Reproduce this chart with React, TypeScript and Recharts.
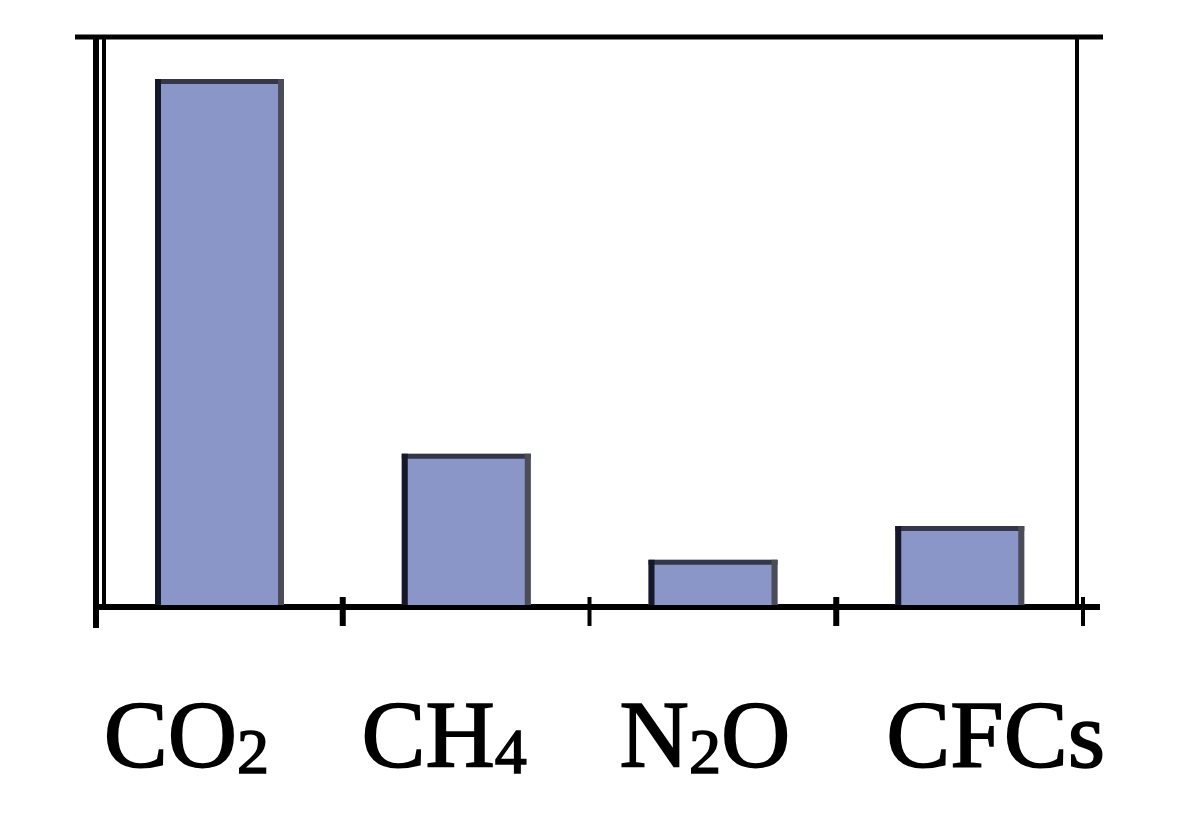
import { BarChart, Bar, XAxis, YAxis, usePlotArea } from 'recharts';

// greenhouse gases, relative contribution
const gases = ['CO2', 'CH4', 'N2O', 'CFCs'];
const contribution = [64, 18.4, 5.5, 9.6];
// how each label is written: [main, subscript, tail]
const labelParts: [string, string, string][] = [
  ['CO', '2', ''],
  ['CH', '4', ''],
  ['N', '2', 'O'],
  ['CFCs', '', ''],
];
const yMax = 69;

const data = gases.map((g, i) => ({ name: g, value: contribution[i] }));

const W = 1176;
const H = 803;
const margin = { top: 30, right: 101, bottom: 0, left: 88 };
const axisHeight = 206;
const labelNudge = [-33, -22, -8, 36];

function GasBar(props: any) {
  const { x, y, width, height } = props;
  if (!height || height <= 0) return null;
  return (
    <g>
      <rect x={x} y={y} width={width} height={height} fill="#8b96c8" />
      <line x1={x} x2={x + width} y1={y + 2.5} y2={y + 2.5} stroke="#34374a" strokeWidth={5} />
      <line x1={x + 3} x2={x + 3} y1={y} y2={y + height} stroke="#15172a" strokeWidth={6} />
      <line x1={x + width - 3} x2={x + width - 3} y1={y} y2={y + height} stroke="#4a4c58" strokeWidth={6} />
    </g>
  );
}

function GasTick(props: any) {
  const { x, y, index } = props;
  const [main, sub, tail] = labelParts[index] ?? [String(props.payload?.value), '', ''];
  return (
    <text
      x={x + (labelNudge[index] ?? 0)}
      y={y + 160}
      textAnchor="middle"
      fontFamily="'Liberation Serif', 'DejaVu Serif', serif"
      fontSize={96}
      fill="#000"
      stroke="#000"
      strokeWidth={1.6}
    >
      <tspan>{main}</tspan>
      {sub && (
        <tspan fontSize={64} dy={6}>
          {sub}
        </tspan>
      )}
      {tail && <tspan dy={-6}>{tail}</tspan>}
    </text>
  );
}

function Frame() {
  const area = usePlotArea();
  if (!area) return null;
  const { x, y, width, height } = area;
  const bottom = y + height;
  const right = x + width;
  const step = width / gases.length;
  const ticks = gases.map((_, i) => x + step * (i + 1));
  return (
    <g>
      <line x1={x - 21} x2={right + 20} y1={y - 1} y2={y - 1} stroke="#000" strokeWidth={5} />
      <line x1={right - 6} x2={right - 6} y1={y} y2={bottom} stroke="#000" strokeWidth={4} />
      <line x1={x} x2={x} y1={y - 1} y2={bottom + 23} stroke="#000" strokeWidth={6} />
      <line x1={x + 8} x2={x + 8} y1={y - 1} y2={bottom} stroke="#000" strokeWidth={4} />
      <line x1={x + 3} x2={right + 17} y1={bottom + 2} y2={bottom + 2} stroke="#000" strokeWidth={6} />
      {ticks.map((tx, i) => (
        <line key={i} x1={tx} x2={tx} y1={bottom - 8} y2={bottom + 21} stroke="#000" strokeWidth={i % 2 === 0 ? 6 : 4} />
      ))}
    </g>
  );
}

export default function App() {
  return (
    <div style={{ width: W, height: H, background: '#fff' }}>
      <BarChart width={W} height={H} data={data} margin={margin} barSize={129}>
        <XAxis
          dataKey="name"
          height={axisHeight}
          axisLine={false}
          tickLine={false}
          tickSize={0}
          interval={0}
          tick={<GasTick />}
        />
        <YAxis hide domain={[0, yMax]} />
        <Bar dataKey="value" isAnimationActive={false} shape={<GasBar />} />
        <Frame />
      </BarChart>
    </div>
  );
}
